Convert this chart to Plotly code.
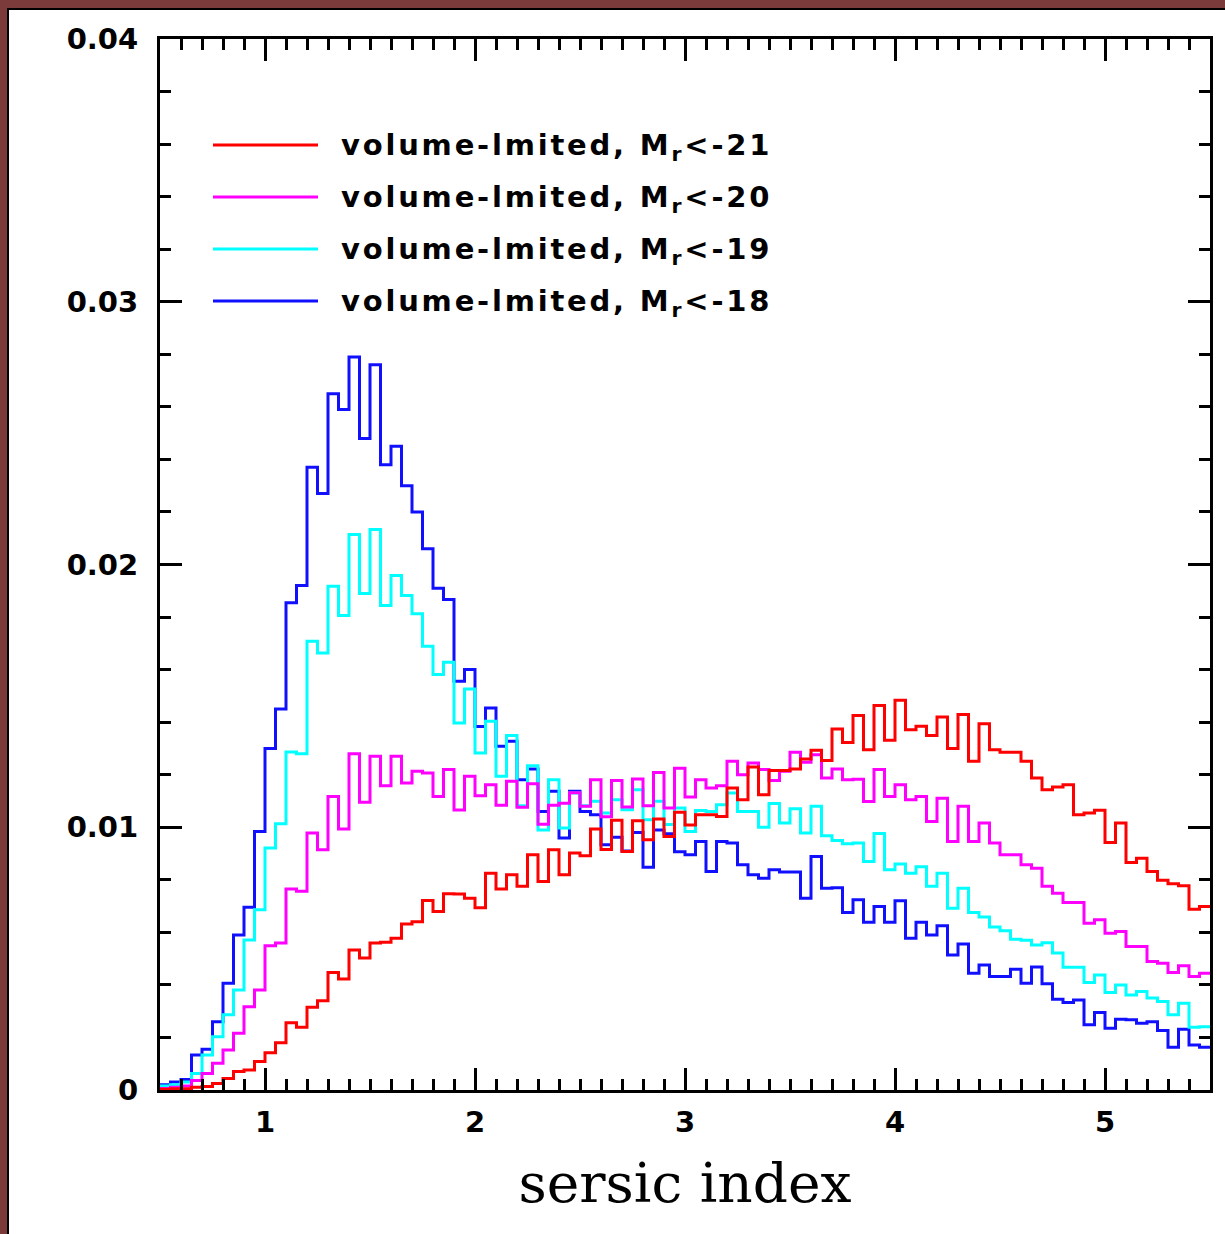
import plotly.graph_objects as go

# bin left edges of the sersic-index histogram (width 0.05, 0.5 .. 5.5)
bin_left = [round(0.5 + 0.05 * i, 2) for i in range(100)]
x_end = 5.5

mr21 = [0.00003, 0.00005, 0.00005, 0.0001, 0.00013, 0.00025, 0.00044, 0.0007, 0.00076, 0.00108,
        0.00142, 0.0018, 0.00256, 0.00239, 0.00315, 0.0034, 0.00447, 0.00422, 0.00533, 0.00502,
        0.00559, 0.00562, 0.00578, 0.00632, 0.0064, 0.00721, 0.00679, 0.00747, 0.00746, 0.0073,
        0.00694, 0.00825, 0.00765, 0.00819, 0.00775, 0.00895, 0.00794, 0.00914, 0.00819, 0.00902,
        0.00892, 0.00993, 0.00915, 0.01027, 0.00908, 0.01025, 0.00952, 0.01031, 0.00965, 0.01057,
        0.01009, 0.01048, 0.01048, 0.01041, 0.01149, 0.01105, 0.01229, 0.01124, 0.01216, 0.01216,
        0.01222, 0.0126, 0.01293, 0.01254, 0.01374, 0.01323, 0.01425, 0.01295, 0.01463, 0.01331,
        0.01483, 0.01371, 0.01384, 0.01349, 0.0142, 0.013, 0.01429, 0.01251, 0.01394, 0.01295,
        0.01285, 0.01285, 0.01251, 0.01187, 0.01143, 0.01153, 0.01162, 0.01048, 0.01054, 0.01065,
        0.00942, 0.01016, 0.00866, 0.00882, 0.00832, 0.00798, 0.00785, 0.00777, 0.00688, 0.00698]

mr20 = [0.00006, 0.0001, 0.00015, 0.00036, 0.00063, 0.00102, 0.00152, 0.00216, 0.00317, 0.00381,
        0.00549, 0.00559, 0.00765, 0.00756, 0.00978, 0.00914, 0.01117, 0.00993, 0.0128, 0.01095,
        0.0127, 0.01158, 0.0127, 0.01168, 0.01213, 0.01206, 0.01117, 0.0122, 0.01066, 0.01194,
        0.0112, 0.01162, 0.01084, 0.01175, 0.01076, 0.01166, 0.01011, 0.01084, 0.01091, 0.01131,
        0.0108, 0.01181, 0.0104, 0.01178, 0.01077, 0.01184, 0.01082, 0.01208, 0.01073, 0.01225,
        0.01115, 0.01181, 0.01149, 0.01158, 0.01251, 0.012, 0.01245, 0.0122, 0.01178, 0.01213,
        0.01285, 0.01247, 0.01276, 0.01187, 0.01222, 0.01181, 0.01183, 0.01098, 0.0122, 0.01117,
        0.01162, 0.01105, 0.01117, 0.01022, 0.0111, 0.00946, 0.0108, 0.00946, 0.01016, 0.0094,
        0.00895, 0.00895, 0.00857, 0.00844, 0.00775, 0.00749, 0.00714, 0.00714, 0.00635, 0.00648,
        0.00597, 0.00603, 0.00546, 0.00546, 0.00489, 0.00482, 0.00447, 0.00473, 0.00432, 0.00444]

mr19 = [0.00015, 0.0002, 0.0003, 0.00063, 0.00133, 0.00203, 0.00286, 0.00381, 0.00571, 0.00686,
        0.00921, 0.01013, 0.01286, 0.0128, 0.01708, 0.01663, 0.01917, 0.01806, 0.02114, 0.0189,
        0.02133, 0.01844, 0.01958, 0.01882, 0.01813, 0.01689, 0.01581, 0.01628, 0.01397, 0.01526,
        0.01283, 0.01403, 0.01194, 0.01349, 0.01082, 0.01234, 0.0099, 0.01181, 0.00997, 0.0113,
        0.01082, 0.01099, 0.01054, 0.01105, 0.01067, 0.01143, 0.01029, 0.01099, 0.0101, 0.01073,
        0.00984, 0.01064, 0.0106, 0.01086, 0.0113, 0.0106, 0.0106, 0.01, 0.0109, 0.01016,
        0.0107, 0.00978, 0.0108, 0.00968, 0.0095, 0.00937, 0.0094, 0.0087, 0.00976, 0.00838,
        0.0086, 0.00825, 0.0085, 0.00775, 0.00825, 0.00692, 0.00768, 0.00676, 0.00658, 0.0062,
        0.00606, 0.00574, 0.0057, 0.00552, 0.0056, 0.00521, 0.00467, 0.00467, 0.00409, 0.00438,
        0.00371, 0.004, 0.00362, 0.00375, 0.0035, 0.00337, 0.00286, 0.0033, 0.00239, 0.00241]

mr18 = [0.0002, 0.0003, 0.0004, 0.00133, 0.00155, 0.0026, 0.00406, 0.0059, 0.00696, 0.00984,
        0.013, 0.0145, 0.01854, 0.0192, 0.0237, 0.0227, 0.0265, 0.0259, 0.0279, 0.0248,
        0.0276, 0.0238, 0.0245, 0.023, 0.022, 0.0206, 0.0191, 0.01867, 0.01556, 0.016,
        0.01383, 0.01454, 0.01308, 0.01327, 0.01181, 0.01222, 0.0106, 0.01137, 0.00959, 0.01137,
        0.0106, 0.01048, 0.00933, 0.00962, 0.0091, 0.0098, 0.00848, 0.0099, 0.00975, 0.00907,
        0.00895, 0.00946, 0.00832, 0.00946, 0.0094, 0.00857, 0.00819, 0.00806, 0.00838, 0.0083,
        0.0083, 0.0073, 0.00889, 0.00768, 0.0077, 0.00676, 0.00724, 0.00638, 0.00698, 0.00638,
        0.0072, 0.00578, 0.00638, 0.0059, 0.00625, 0.00514, 0.00556, 0.00444, 0.00476, 0.00432,
        0.00432, 0.0046, 0.00406, 0.00468, 0.00404, 0.00345, 0.00333, 0.00343, 0.00248, 0.00295,
        0.00235, 0.00269, 0.00267, 0.00254, 0.0026, 0.00226, 0.00163, 0.00231, 0.00171, 0.00163]

# drawing order (blue first, red on top); legend lists red first
series = [
    ("volume-lmited, M<sub>r</sub>&lt;-18", mr18, "#1010ff"),
    ("volume-lmited, M<sub>r</sub>&lt;-19", mr19, "#00ffff"),
    ("volume-lmited, M<sub>r</sub>&lt;-20", mr20, "#ff00ff"),
    ("volume-lmited, M<sub>r</sub>&lt;-21", mr21, "#ff0000"),
]

x_ticks = [1, 2, 3, 4, 5]
y_ticks = [0, 0.01, 0.02, 0.03, 0.04]
y_labels = ["0", "0.01", "0.02", "0.03", "0.04"]

fig = go.Figure()
for name, vals, col in series:
    fig.add_trace(go.Scatter(
        x=bin_left + [x_end], y=vals + [vals[-1]],
        mode="lines", line=dict(color=col, width=3, shape="hv"),
        name=name, showlegend=False,
    ))

W, H = 1225, 1234
L, R, T, B = 160, 15, 39, 144
pw, ph = W - L - R, H - T - B

def px_x(px):
    return (px - L) / pw

def px_y(py):
    return 1 - (py - T) / ph

tickfont = dict(family="DejaVu Sans", size=29, color="black", weight="bold")
axis_common = dict(
    showline=True, linecolor="black", linewidth=3, mirror="allticks",
    ticks="inside", tickcolor="black", tickwidth=2.5, ticklen=22,
    showgrid=False, zeroline=False, tickfont=tickfont,
)

fig.update_xaxes(
    range=[0.5, 5.5], tickvals=x_ticks, ticktext=[str(v) for v in x_ticks],
    minor=dict(dtick=0.1, ticks="inside", ticklen=11, tickwidth=2.5, tickcolor="black", showgrid=False),
    title=dict(text="sersic index", font=dict(family="DejaVu Serif", size=55, color="black"), standoff=26),
    ticklabelstandoff=4,
    **axis_common,
)
fig.update_yaxes(
    range=[0, 0.04], tickvals=y_ticks, ticktext=y_labels,
    minor=dict(dtick=0.002, ticks="inside", ticklen=11, tickwidth=2.5, tickcolor="black", showgrid=False),
    ticklabelstandoff=13,
    **axis_common,
)

# legend drawn as line samples + labels (red first, as in the original)
legend_rows = list(reversed(series))
row_y = [145, 197, 249, 301]
for (name, vals, col), ry in zip(legend_rows, row_y):
    fig.add_shape(type="line", xref="paper", yref="paper",
                  x0=px_x(213), x1=px_x(318), y0=px_y(ry), y1=px_y(ry),
                  line=dict(color=col, width=3))
    fig.add_annotation(xref="paper", yref="paper", x=px_x(339), y=px_y(ry + 2),
                       xanchor="left", yanchor="middle", showarrow=False,
                       text=f'<span style="letter-spacing:2.8px">{name}</span>',
                       font=dict(family="DejaVu Sans", size=29, color="black", weight="bold"))

# decorative frame of the original image (brown band with thin black rule, left and top)
fx0, fx1 = -L / pw, 1 + R / pw
fy0, fy1 = -B / ph, 1 + T / ph
brown = "#7b3b3b"
fig.add_shape(type="rect", xref="paper", yref="paper", x0=fx0, x1=-(L - 7) / pw, y0=fy0, y1=fy1,
              fillcolor=brown, line_width=0, layer="above")
fig.add_shape(type="rect", xref="paper", yref="paper", x0=-(L - 7) / pw, x1=-(L - 9) / pw, y0=fy0, y1=1 + (T - 8) / ph,
              fillcolor="black", line_width=0, layer="above")
fig.add_shape(type="rect", xref="paper", yref="paper", x0=fx0, x1=fx1, y0=1 + (T - 8) / ph, y1=fy1,
              fillcolor=brown, line_width=0, layer="above")
fig.add_shape(type="rect", xref="paper", yref="paper", x0=-(L - 7) / pw, x1=fx1, y0=1 + (T - 10) / ph, y1=1 + (T - 8) / ph,
              fillcolor="black", line_width=0, layer="above")

fig.update_layout(
    width=W, height=H,
    margin=dict(l=L, r=R, t=T, b=B, pad=0),
    paper_bgcolor="white", plot_bgcolor="white",
    showlegend=False,
)

fig.write_html("out.html")
